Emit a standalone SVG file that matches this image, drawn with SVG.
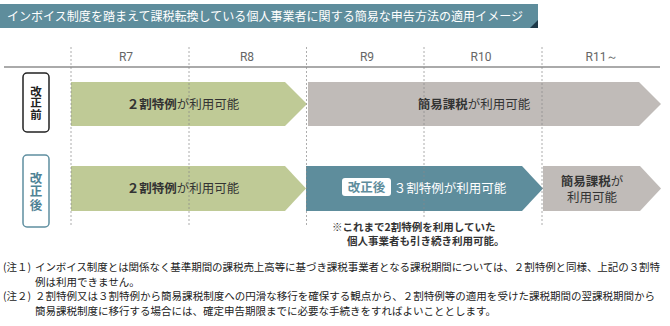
<svg xmlns="http://www.w3.org/2000/svg" width="670" height="326" viewBox="0 0 670 326">
<style>
text{font-family:"Noto Sans CJK JP","Noto Sans",sans-serif}
.col{font-family:Roboto,"Noto Sans",sans-serif;font-size:12px;fill:#666;text-anchor:middle}
.lbl{font-size:12.5px;fill:#333;text-anchor:middle}
.b{font-weight:bold}
.dash{stroke:#8a8a8a;stroke-width:1;stroke-dasharray:2 2;fill:none}
.note{font-size:10.5px;fill:#222}
.vert{writing-mode:vertical-rl;text-anchor:middle;font-weight:bold}
</style>
<rect width="670" height="326" fill="#fff"/>
<g id="title">
<rect x="0" y="4" width="538" height="24" fill="#5e8d9c"/>
<polygon points="530,28 538,28 538,20" fill="#1d3848"/>
<text x="7" y="20.5" font-size="12.3" fill="#fff" textLength="516" lengthAdjust="spacingAndGlyphs">インボイス制度を踏まえて課税転換している個人事業者に関する簡易な申告方法の適用イメージ</text>
</g>
<g id="header">
<line x1="4" y1="67" x2="660" y2="67" stroke="#aaa" stroke-width="2"/>
<text class="col" x="126" y="61">R7</text>
<text class="col" x="247" y="61">R8</text>
<text class="col" x="367" y="61">R9</text>
<text class="col" x="481" y="61">R10</text>
<text class="col" x="602" y="61">R11～</text>
</g>
<g id="label-before">
<rect x="23" y="73" width="26" height="59" rx="4" fill="#fff" stroke="#222" stroke-width="1.5"/>
<text class="vert" x="36" y="103" font-size="11.5" fill="#222">改正前</text>
</g>
<g id="label-after">
<rect x="23" y="155" width="26" height="72" rx="4" fill="#fff" stroke="#5f8fa0" stroke-width="1.5"/>
<text class="vert" x="36" y="192" font-size="12.5" fill="#4f8396" letter-spacing="1">改正後</text>
</g>
<g id="before-2wari">
<polygon points="71,82 285,82 307,104 285,126 71,126" fill="#bfca96"/>
<text class="lbl" x="183" y="108.5"><tspan class="b">２割特例</tspan>が利用可能</text>
</g>
<g id="before-kani">
<polygon points="308,82 639,82 661,104 639,126 308,126" fill="#c0bbb8"/>
<text class="lbl" x="474" y="108.5"><tspan class="b">簡易課税</tspan>が利用可能</text>
</g>
<g id="after-2wari">
<polygon points="71,166 285,166 306,188.5 285,211 71,211" fill="#bfca96"/>
<text class="lbl" x="183" y="193"><tspan class="b">２割特例</tspan>が利用可能</text>
</g>
<g id="after-3wari">
<polygon points="306,166 522,166 543,188.5 522,211 306,211" fill="#5e8d9c"/>
<rect x="342" y="178" width="49" height="18" rx="3" fill="#fff"/>
<text x="366.5" y="191.5" font-size="12.5" font-weight="bold" fill="#5e8d9c" text-anchor="middle">改正後</text>
<text x="450" y="193" font-size="12.5" fill="#fff" text-anchor="middle">３割特例が利用可能</text>
</g>
<g id="after-kani">
<polygon points="543,166 640,166 661,188.5 640,211 543,211" fill="#c0bbb8"/>
<text class="lbl" x="592" y="186" font-size="12"><tspan class="b">簡易課税</tspan>が<tspan x="592" dy="15.5">利用可能</tspan></text>
</g>
<g id="connectors">
<line class="dash" x1="71" y1="47" x2="71" y2="227" opacity="0.7"/>
<line class="dash" x1="189" y1="47" x2="189" y2="227" opacity="0.7"/>
<line class="dash" x1="306.5" y1="47" x2="306.5" y2="227" opacity="0.7"/>
<line class="dash" x1="424" y1="47" x2="424" y2="217" opacity="0.7"/>
<line class="dash" x1="542" y1="47" x2="542" y2="227" opacity="0.7"/>
</g>
<g id="remark">
<text x="332" y="230.5" font-size="10.5" font-weight="bold" fill="#333">※これまで2割特例を利用していた</text>
<text x="347" y="244.5" font-size="10.5" font-weight="bold" fill="#333">個人事業者も引き続き利用可能。</text>
</g>
<g id="footnotes">
<text class="note" x="3" y="271">(注１)</text>
<text class="note" x="35" y="271" textLength="625" lengthAdjust="spacing">インボイス制度とは関係なく基準期間の課税売上高等に基づき課税事業者となる課税期間については、２割特例と同様、上記の３割特</text>
<text class="note" x="35" y="286">例は利用できません。</text>
<text class="note" x="3" y="300">(注２)</text>
<text class="note" x="35" y="300" textLength="620" lengthAdjust="spacing">２割特例又は３割特例から簡易課税制度への円滑な移行を確保する観点から、２割特例等の適用を受けた課税期間の翌課税期間から</text>
<text class="note" x="35" y="315">簡易課税制度に移行する場合には、確定申告期限までに必要な手続きをすればよいこととします。</text>
</g>
</svg>
